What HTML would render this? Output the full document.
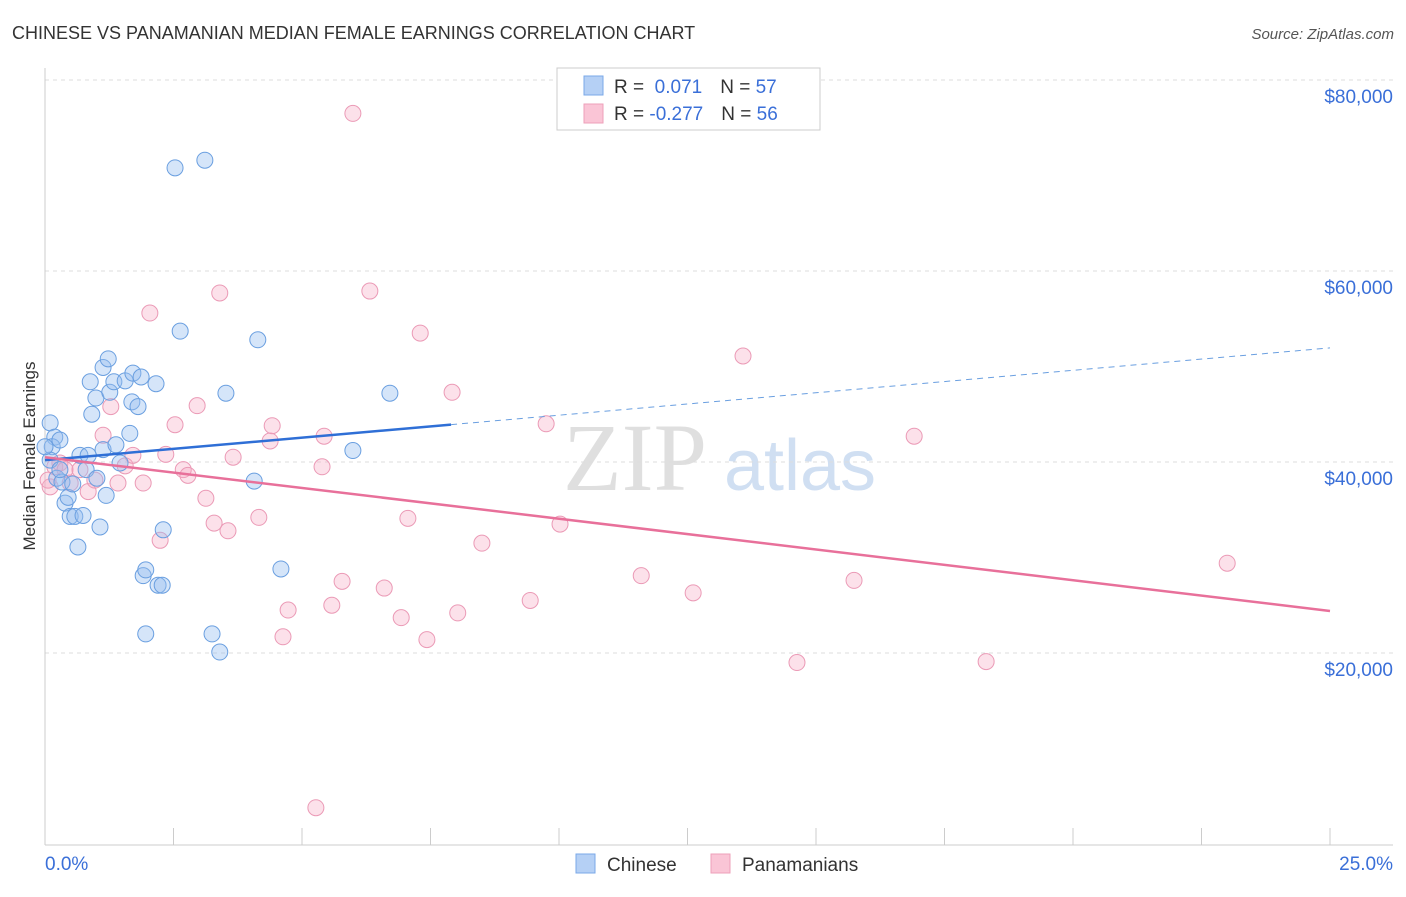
<!DOCTYPE html>
<html><head><meta charset="utf-8"><style>
body{margin:0;background:#fff;font-family:"Liberation Sans",sans-serif}
</style></head><body>
<svg id="c" width="1406" height="892" xmlns="http://www.w3.org/2000/svg" style="font-family:'Liberation Sans',sans-serif">
<text x="12" y="39" font-size="18" fill="#333">CHINESE VS PANAMANIAN MEDIAN FEMALE EARNINGS CORRELATION CHART</text>
<text x="1394" y="39" font-size="15" fill="#555" font-style="italic" text-anchor="end">Source: ZipAtlas.com</text>
<g>
<text x="635" y="490" font-size="96" fill="#d8d8d8" font-family="Liberation Serif" text-anchor="middle" opacity="0.8">ZIP</text>
<text x="800" y="490" font-size="72" fill="#c5d8f0" text-anchor="middle" opacity="0.8">atlas</text>
</g>
<g id="grid"></g>
<g id="axes"></g>
<g id="pts"></g>
<g id="trend"></g>
<text x="35" y="456" font-size="17" fill="#333" text-anchor="middle" transform="rotate(-90 35 456)">Median Female Earnings</text>
<g>
<rect x="557" y="68" width="263" height="62" fill="#fff" stroke="#ccc"/>
<rect x="584" y="76" width="19" height="19" fill="#b5d0f5" stroke="#7aa8e8"/>
<rect x="584" y="104" width="19" height="19" fill="#fac5d6" stroke="#eea0ba"/>
<text x="614" y="93" font-size="19" fill="#333">R = <tspan fill="#3a6fd8">&#160;0.071</tspan><tspan dx="18">N = </tspan><tspan fill="#3a6fd8">57</tspan></text>
<text x="614" y="120" font-size="19" fill="#333">R = <tspan fill="#3a6fd8">-0.277</tspan><tspan dx="18">N = </tspan><tspan fill="#3a6fd8">56</tspan></text>
</g>
<g>
<rect x="576" y="854" width="19" height="19" fill="#b5d0f5" stroke="#7aa8e8"/>
<text x="607" y="871" font-size="19" fill="#333">Chinese</text>
<rect x="711" y="854" width="19" height="19" fill="#fac5d6" stroke="#eea0ba"/>
<text x="742" y="871" font-size="19" fill="#333">Panamanians</text>
</g>
</svg>
<script>
const yTicks=[20000,40000,60000,80000];
const yTickLabels=["$20,000","$40,000","$60,000","$80,000"];
const xTickLabels=["0.0%","25.0%"];
const chineseX=[0.10,0.19,0.14,0.10,0.23,0.33,0.29,0.39,0.45,0.49,0.58,0.54,0.64,0.68,0.74,0.80,0.84,0.88,0.91,0.99,1.01,1.07,1.13,1.13,1.19,1.23,1.26,1.34,1.38,1.46,1.56,1.65,1.69,1.71,1.81,1.87,1.91,1.96,1.96,2.16,2.20,2.28,2.30,2.53,2.63,3.11,3.25,3.40,3.52,4.07,4.14,4.59,5.99,6.71,0.00,0.29];
const chineseY=[44100,42600,41600,40200,38300,37900,39200,35700,36300,34300,34300,37700,31100,40700,34400,39200,40700,48400,45000,46700,38300,33200,41300,49900,36500,50800,47300,48400,41800,39900,48500,43000,46300,49300,45800,48900,28100,28700,22000,48200,27100,27100,32900,70800,53700,71600,22000,20100,47200,38000,52800,28800,41200,47200,41600,42300];
const panX=[0.10,0.19,0.29,0.39,0.49,0.68,0.84,0.97,1.13,1.28,1.42,1.56,1.71,1.91,2.04,2.24,2.35,2.53,2.69,2.78,2.96,3.13,3.29,3.40,3.56,3.66,4.16,4.38,4.42,4.63,4.73,5.39,5.43,5.58,5.78,5.99,6.32,6.60,6.93,7.06,7.30,7.43,7.92,8.03,8.50,9.44,9.75,10.02,11.60,12.61,13.58,14.63,15.74,16.91,18.31,23.00,5.27,0.06];
const panY=[37400,39500,39900,39200,37800,39200,36900,38100,42800,45800,37800,39600,40700,37800,55600,31800,40800,43900,39200,38600,45900,36200,33600,57700,32800,40500,34200,42200,43800,21700,24500,39500,42700,25000,27500,76500,57900,26800,23700,34100,53500,21400,47300,24200,31500,25500,44000,33500,28100,26300,51100,19000,27600,42700,19100,29400,3800,38100];
const chineseTrend=[40200,0.47]; // intercept, slope per %
const panTrend=[40500,-0.644];
const NS="http://www.w3.org/2000/svg";
const X=v=>45+v/25*1285, Y=v=>844-v/20000*191;
function mk(t,a,p){const e=document.createElementNS(NS,t);for(const k in a)e.setAttribute(k,a[k]);p.appendChild(e);return e;}
const grid=document.getElementById('grid'),axes=document.getElementById('axes'),pts=document.getElementById('pts'),tr=document.getElementById('trend');
yTicks.forEach((v,i)=>{
 const l=mk('line',{x1:45,x2:1393,y1:Y(v),y2:Y(v),stroke:'#ddd','stroke-dasharray':'4,4'},grid);
 
 
 const t=mk('text',{x:1393,y:Y(v)+23,'font-size':19,fill:'#3a6fd8','text-anchor':'end'},axes);
 t.textContent=yTickLabels[i];
 
 
});
mk('line',{x1:45,x2:45,y1:68,y2:845,stroke:'#ccc'},axes);
mk('line',{x1:45,x2:1393,y1:845,y2:845,stroke:'#ccc'},axes);
for(let i=1;i<=10;i++){mk('line',{x1:X(i*2.5),x2:X(i*2.5),y1:828,y2:845,stroke:'#ccc'},axes);}
[[0,'start',45],[1,'end',1393]].forEach(([i,a,x])=>{
 const t=mk('text',{x:x,y:870,'font-size':19,fill:'#3a6fd8','text-anchor':a},axes);
 t.textContent=xTickLabels[i];
 
 
});
panX.forEach((x,i)=>{
 const c=mk('circle',{cx:X(x),cy:Y(panY[i]),r:8,fill:'rgba(245,170,195,0.35)',stroke:'#eb9ab6','stroke-width':1},pts);
 
 
});
chineseX.forEach((x,i)=>{
 const c=mk('circle',{cx:X(x),cy:Y(chineseY[i]),r:8,fill:'rgba(150,190,240,0.4)',stroke:'#6a9fe0','stroke-width':1},pts);
 
 
});
const cy=x=>chineseTrend[0]+chineseTrend[1]*x*1000/1;
const bl=x=>chineseTrend[0]+chineseTrend[1]*1000*x;
let l1=mk('line',{x1:X(0),y1:Y(bl(0)),x2:X(7.9),y2:Y(bl(7.9)),stroke:'#2f6fd6','stroke-width':2.5},tr);


let l2=mk('line',{x1:X(7.9),y1:Y(bl(7.9)),x2:X(25),y2:Y(bl(25)),stroke:'#6a9fe0','stroke-width':1,'stroke-dasharray':'6,5'},tr);


const pl=x=>panTrend[0]+panTrend[1]*1000*x;
let l3=mk('line',{x1:X(0),y1:Y(pl(0)),x2:X(25),y2:Y(pl(25)),stroke:'#e8709a','stroke-width':2.5},tr);


</script>
</body></html>
